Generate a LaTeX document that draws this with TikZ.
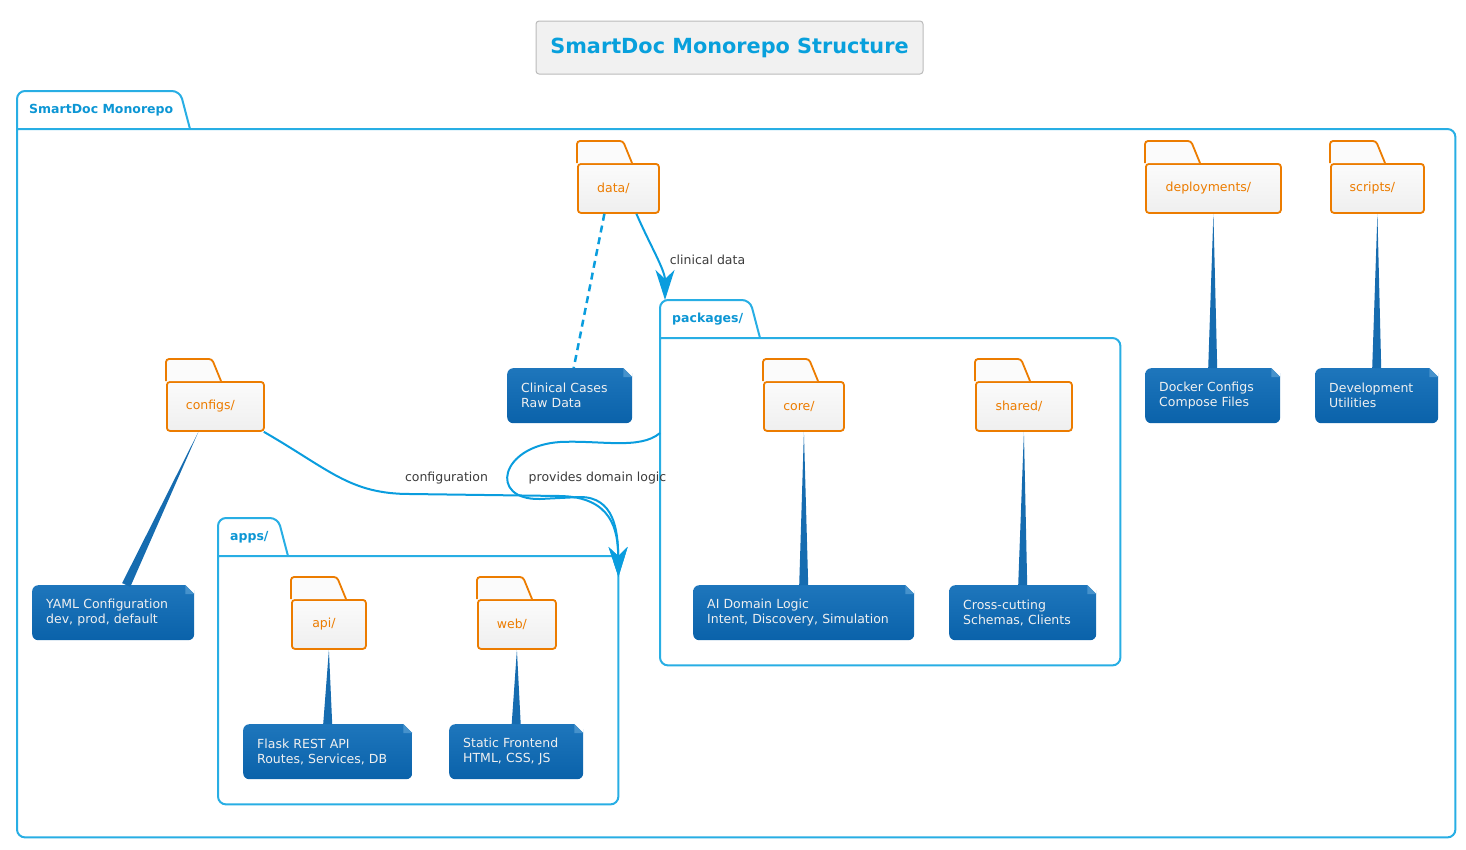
\documentclass[tikz,border=0pt]{standalone}
\usepackage{fontspec}
\setmainfont{DejaVu Sans}
\usepackage{tikz}
\usetikzlibrary{calc,arrows.meta}

\definecolor{pkgblue}{RGB}{40,174,228}
\definecolor{pkgtext}{RGB}{12,150,212}
\definecolor{dirorange}{RGB}{236,124,0}
\definecolor{dirtop}{RGB}{251,251,251}
\definecolor{dirbot}{RGB}{239,239,239}
\definecolor{notetop}{RGB}{30,118,188}
\definecolor{notebot}{RGB}{10,98,170}
\definecolor{notefoldc}{RGB}{70,146,204}
\definecolor{notetext}{RGB}{240,240,240}
\definecolor{linkblue}{RGB}{10,157,222}
\definecolor{tailblue}{RGB}{22,108,176}
\definecolor{labelgray}{RGB}{60,60,60}
\definecolor{titleblue}{RGB}{8,160,220}

\newcommand{\notetail}[2]{\fill[tailblue] (#1) -- ($(#2)!4.5pt!90:(#1)$) -- ($(#2)!4.5pt!-90:(#1)$) -- cycle;}
\newcommand{\dirtab}[1]{\draw[dirline] (#1.north west) -- ++(0,-22) -- ++(46,0) -- ++(9,22);}
\newcommand{\notefold}[1]{\fill[white] (#1.north east) -- ++(-9,0) -- ++(9,9) -- cycle;
  \fill[notefoldc] ($(#1.north east)+(-9,0)$) -- ++(0,9) -- ++(9,0) -- cycle;}
\newcommand{\pkgframe}[3]{\draw[pkgline] (#1.north west) -- (#1.north east) -- (#1.south east) -- (#1.south west) -- (#1.north west) -- ++(0,-38) -- ++(#2,0) -- ($(#1.north west)+(#2+10,0)$);
  \node[pkglabel] (#1label) at ($(#1.north west)+(12,-19)$) {#3};}

\begin{document}
\begin{tikzpicture}[x=1pt,y=-1pt,
  pkgbody/.style={inner sep=0pt,anchor=north west},
  pkgline/.style={draw=pkgblue,line width=2pt,rounded corners=8pt},
  pkglabel/.style={text=pkgtext,font=\bfseries\fontsize{12.5}{15}\selectfont,inner sep=0pt,anchor=west},
  dirbox/.style={draw=dirorange,line width=1.8pt,rounded corners=3pt,top color=dirtop,bottom color=dirbot,text=dirorange,font=\fontsize{12.5}{15}\selectfont,minimum height=49pt,inner sep=0pt,anchor=north west},
  dirline/.style={draw=dirorange,line width=1.8pt,rounded corners=3pt,fill=dirtop},
  note/.style={top color=notetop,bottom color=notebot,rounded corners=6pt,text=notetext,font=\fontsize{12.5}{15}\selectfont,align=left,inner xsep=14pt,inner ysep=0pt,minimum height=55pt,anchor=north west,text width=#1},
  link/.style={draw=linkblue,line width=2pt,-{Stealth[length=30pt,width=19pt,inset=9pt]}},
  linklabel/.style={text=labelgray,font=\fontsize{12.5}{15}\selectfont,inner sep=0pt}]
\useasboundingbox (0,0) rectangle (1466,849);

\node[draw={rgb,255:red,187;green,187;blue,187},fill={rgb,255:red,241;green,241;blue,241},rounded corners=3pt,line width=1pt,minimum width=387pt,minimum height=53pt,text=titleblue,font=\bfseries\fontsize{20.8}{25}\selectfont] (title) at (729.5,47.5) {\raisebox{-1.5pt}{SmartDoc Monorepo Structure}};

% frames
\node[pkgbody,minimum width=1438pt,minimum height=708pt] (monorepo) at (17,129) {};
\node[pkgbody,minimum width=460pt,minimum height=327pt] (packages) at (660,338) {};
\node[pkgbody,minimum width=400pt,minimum height=248pt] (apps) at (218,556) {};
\pkgframe{monorepo}{163}{SmartDoc Monorepo}
\pkgframe{packages}{90}{packages/}
\pkgframe{apps}{60}{apps/}

% folders
\node[dirbox,minimum width=81pt] (data) at (577,163) {data/\kern10pt};
\node[dirbox,minimum width=135pt] (deployments) at (1145,163) {deployments/\kern10pt};
\node[dirbox,minimum width=93pt] (scripts) at (1330,163) {scripts/\kern10pt};
\node[dirbox,minimum width=97pt] (configs) at (166,381) {configs/\kern10pt};
\node[dirbox,minimum width=80pt] (core) at (763,381) {core/\kern10pt};
\node[dirbox,minimum width=96pt] (shared) at (975,381) {shared/\kern10pt};
\node[dirbox,minimum width=74pt] (api) at (291,599) {api/\kern10pt};
\node[dirbox,minimum width=78pt] (web) at (477,599) {web/\kern10pt};
\foreach \d in {data,deployments,scripts,configs,core,shared,api,web}
  \dirtab{\d};

% notes
\node[note=97pt] (cases) at (507,368) {Clinical Cases\\Raw Data};
\node[note=107pt] (docker) at (1145,368) {Docker Configs\\Compose Files};
\node[note=95pt] (devutil) at (1315,368) {Development\\Utilities};
\node[note=134pt] (yaml) at (32,585) {YAML Configuration\\dev, prod, default};
\node[note=193pt] (aidomain) at (693,585) {AI Domain Logic\\Intent, Discovery, Simulation};
\node[note=119pt] (crosscut) at (949,585) {Cross-cutting\\Schemas, Clients};
\node[note=141pt] (flask) at (243,724) {Flask REST API\\Routes, Services, DB};
\node[note=106pt] (static) at (449,724) {Static Frontend\\HTML, CSS, JS};
\foreach \n in {cases,docker,devutil,yaml,aidomain,crosscut,flask,static}
  \notefold{\n};

\coordinate (cfgfoot) at ($(configs.south)+(-17,0)$);
\coordinate (yamlhead) at ($(yaml.north)+(13,0)$);
\notetail{cfgfoot}{yamlhead}
\notetail{core.south}{aidomain.north}
\notetail{shared.south}{crosscut.north}
\notetail{deployments.south}{docker.north}
\notetail{scripts.south}{devutil.north}
\notetail{api.south}{flask.north}
\notetail{web.south}{static.north}

\draw[draw=linkblue,line width=2.5pt,dash pattern=on 7pt off 5pt] ($(data.south)+(-14,0)$) -- ($(cases.north)+(4,0)$);

% links
\draw[link] ($(data.south)+(18,0)$) .. controls (650,245) and (665,270) .. ($(packages.north west)+(5,-38)$);
\draw[link] ($(configs.south east)+(-1,0)$) .. controls (330,470) and (350,494) .. (410,494) -- (560,496) .. controls (612,497) and (618,530) .. ($(apps.north east)+(0,21)$);
\draw[link] ($(packages.north west)+(0,95)$) .. controls (640,450) and (600,440) .. (560,442) .. controls (500,446) and (488,500) .. (540,499) -- (580,497) .. controls (614,497) and (618,530) .. ($(apps.north east)+(0,21)$);

\node[linklabel] (clinlabel) at (707.5,260) {clinical data};
\node[linklabel] (cfglabel) at (446.5,478) {configuration};
\node[linklabel] (logiclabel) at (597.5,478) {provides domain logic};
\end{tikzpicture}
\end{document}
